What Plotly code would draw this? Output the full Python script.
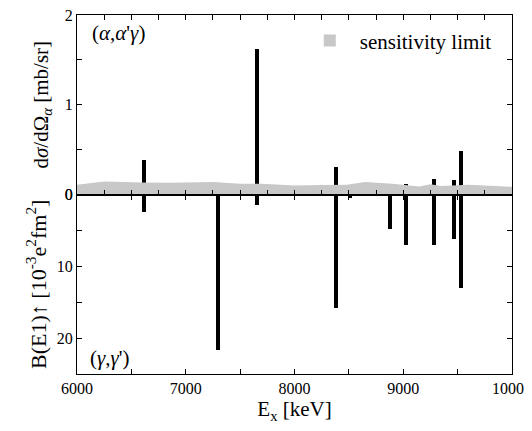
import plotly.graph_objects as go
from plotly.subplots import make_subplots

# niveles (keV) y valores
energias = [6616, 7296, 7655, 8379, 8508, 8875, 9025, 9286, 9464, 9535]
sigma_alpha = [0.38, 0.0, 1.62, 0.31, 0.0, 0.0, 0.12, 0.17, 0.16, 0.49]
be1 = [2.4, 21.6, 1.4, 15.8, 0.4, 4.8, 7.0, 7.0, 6.1, 13.0]

# limite de sensibilidad (alfa)
lim_x = [6000, 6250, 6600, 6850, 7250, 7500, 7700, 8000, 8250, 8480, 8650, 8900, 9150, 9250, 9350, 9500, 9600, 10000]
lim_y = [0.11, 0.146, 0.135, 0.13, 0.14, 0.12, 0.12, 0.10, 0.105, 0.11, 0.14, 0.12, 0.09, 0.115, 0.095, 0.10, 0.11, 0.085]

fuente = "Liberation Serif, Times New Roman, DejaVu Serif, serif"
gris = "#c8c8c8"

fig = make_subplots(rows=2, cols=1, shared_xaxes=True, vertical_spacing=0)

fig.add_trace(go.Scatter(x=lim_x, y=lim_y, mode="lines", fill="tozeroy",
                         line=dict(width=0, color=gris), fillcolor=gris,
                         showlegend=False, hoverinfo="skip"), 1, 1)
# entrada de leyenda (cuadro gris)
fig.add_trace(go.Scatter(x=[None], y=[None], mode="markers",
                         marker=dict(symbol="square", size=12, color=gris),
                         name="sensitivity limit"), 1, 1)
fig.add_trace(go.Bar(x=energias, y=sigma_alpha, width=36, marker_color="black",
                     marker_line_width=0, showlegend=False), 1, 1)
fig.add_trace(go.Bar(x=energias, y=be1, width=36, marker_color="black",
                     marker_line_width=0, showlegend=False), 2, 1)

ejes = dict(showline=True, linecolor="black", linewidth=1, mirror="ticks",
            ticks="inside", ticklen=5, tickcolor="black", showgrid=False,
            zeroline=False, automargin=False, ticklabeloverflow="allow",
            tickfont=dict(family=fuente, size=16, color="black"))

fig.update_xaxes(**ejes)
fig.update_yaxes(**ejes)
fig.update_xaxes(range=[6000, 10000], dtick=250, showticklabels=False, row=1, col=1)
fig.update_xaxes(range=[6000, 10000], dtick=1000, tick0=6000, tickformat="d",
                 minor=dict(dtick=500, ticks="inside", ticklen=5, tickcolor="black"),
                 title=dict(text="E<sub>x</sub> [keV]", font=dict(family=fuente, size=21, color="black"),
                            standoff=2), row=2, col=1)
fig.update_yaxes(range=[0, 2], dtick=1, minor=dict(dtick=0.5, ticks="inside", ticklen=5, tickcolor="black"),
                 title=dict(text="d<i>σ</i>/dΩ<sub><i>α</i></sub> [mb/sr]",
                            font=dict(family=fuente, size=21, color="black"), standoff=10),
                 row=1, col=1)
fig.update_yaxes(range=[25, 0], dtick=10, minor=dict(dtick=5, ticks="inside", ticklen=5, tickcolor="black"),
                 title=dict(text="B(E1)↑ [10<sup>-3</sup>e<sup>2</sup>fm<sup>2</sup>]",
                            font=dict(family=fuente, size=22, color="black"), standoff=4),
                 row=2, col=1)

# la pagina tiene 8 px de margen en el body: se compensa en los margenes
fig.update_layout(
    width=532, height=431,
    margin=dict(l=69, r=28, t=7, b=65, autoexpand=False),
    plot_bgcolor="white", paper_bgcolor="white",
    font=dict(family=fuente, color="black"),
    barmode="overlay", bargap=0,
    showlegend=True,
    legend=dict(x=0.965, y=0.985, xanchor="right", yanchor="top", bgcolor="rgba(0,0,0,0)",
                font=dict(family=fuente, size=21, color="black"), itemwidth=50),
    annotations=[
        dict(text="(<i>α</i>,<i>α</i>'<i>γ</i>)", xref="paper", yref="paper", x=0.03, y=0.99,
             xanchor="left", yanchor="top", showarrow=False,
             font=dict(family=fuente, size=21, color="black")),
        dict(text="(<i>γ</i>,<i>γ</i>')", xref="paper", yref="paper", x=0.025, y=0.005,
             xanchor="left", yanchor="bottom", showarrow=False,
             font=dict(family=fuente, size=21, color="black")),
    ],
)

fig.write_html("out.html")
